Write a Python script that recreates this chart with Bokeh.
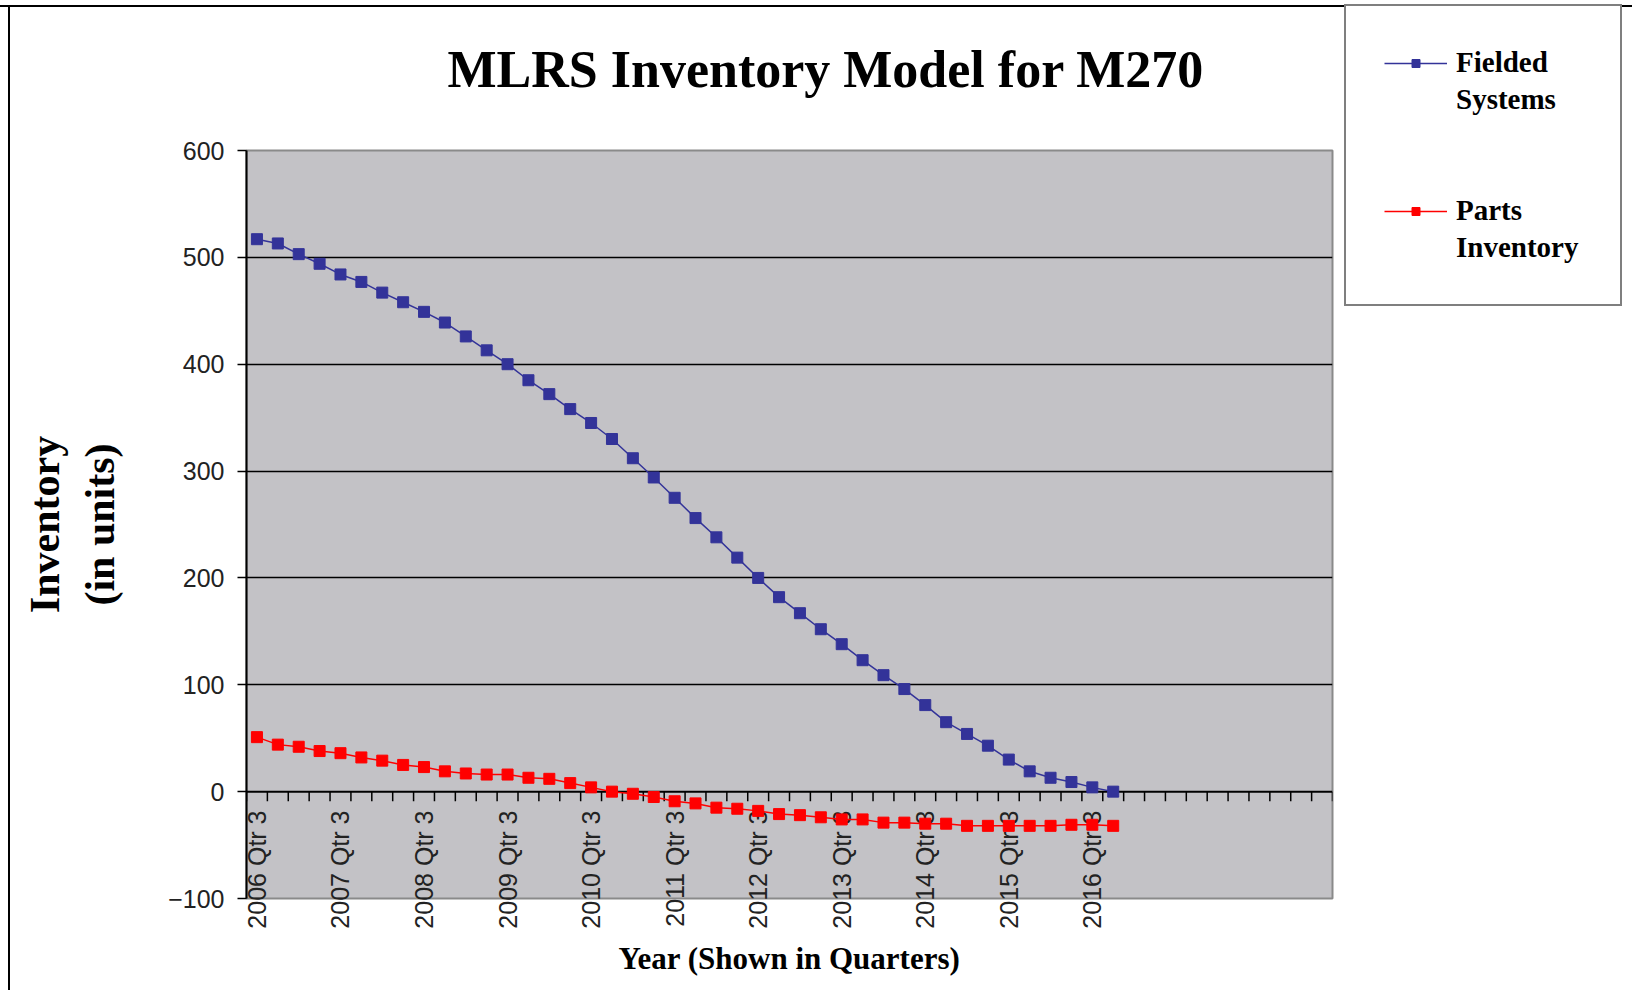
import math
from bokeh.plotting import figure
from bokeh.layouts import column, row
from bokeh.models import (Range1d, FixedTicker, Span, Legend, LegendItem, Title, Div)
from bokeh.embed import file_html
from bokeh.resources import INLINE

# ---------------- data ----------------
categories = [
    "2006 Qtr 3", "2006 Qtr 4",
    "2007 Qtr 1", "2007 Qtr 2", "2007 Qtr 3", "2007 Qtr 4",
    "2008 Qtr 1", "2008 Qtr 2", "2008 Qtr 3", "2008 Qtr 4",
    "2009 Qtr 1", "2009 Qtr 2", "2009 Qtr 3", "2009 Qtr 4",
    "2010 Qtr 1", "2010 Qtr 2", "2010 Qtr 3", "2010 Qtr 4",
    "2011 Qtr 1", "2011 Qtr 2", "2011 Qtr 3", "2011 Qtr 4",
    "2012 Qtr 1", "2012 Qtr 2", "2012 Qtr 3", "2012 Qtr 4",
    "2013 Qtr 1", "2013 Qtr 2", "2013 Qtr 3", "2013 Qtr 4",
    "2014 Qtr 1", "2014 Qtr 2", "2014 Qtr 3", "2014 Qtr 4",
    "2015 Qtr 1", "2015 Qtr 2", "2015 Qtr 3", "2015 Qtr 4",
    "2016 Qtr 1", "2016 Qtr 2", "2016 Qtr 3", "2016 Qtr 4",
]
fielded_systems = [517, 513, 503, 494, 484, 477, 467, 458, 449, 439,
                   426, 413, 400, 385, 372, 358, 345, 330, 312, 294,
                   275, 256, 238, 219, 200, 182, 167, 152, 138, 123,
                   109, 96, 81, 65, 54, 43, 30, 19, 13, 9, 4, 0]
parts_inventory = [51, 44, 42, 38, 36, 32, 29, 25, 23, 19,
                   17, 16, 16, 13, 12, 8, 4, 0, -2, -5,
                   -9, -11, -15, -16, -18, -21, -22, -24, -26, -26,
                   -29, -29, -30, -30, -32, -32, -32, -32, -32, -31, -31, -32]
y_ticks = [-100, 0, 100, 200, 300, 400, 500, 600]
grid_values = [100, 200, 300, 400, 500]
y_min, y_max = -100, 600
n_slots = 52          # category slots on the axis (last ones empty)
label_every = 4       # one label per year

xs = [i + 0.5 for i in range(len(categories))]
label_x = [xs[i] for i in range(0, len(categories), label_every)]
label_text = [categories[i] for i in range(0, len(categories), label_every)]
tick_edges = list(range(0, n_slots + 1))

SERIF = "Liberation Serif"
SANS = "Liberation Sans"

# page: 7px top strip (chart-area border), 10px left strip, then the figure
TOP_STRIP, LEFT_STRIP = 7, 10
W_LEFT, W_FRAME, W_RIGHT = 236, 1086, 300
H_TOP, H_FRAME, H_BOTTOM = 143, 748, 92
W_FIG = W_LEFT + W_FRAME + W_RIGHT
H_FIG = H_TOP + H_FRAME + H_BOTTOM

p = figure(frame_width=W_FRAME, frame_height=H_FRAME,
           min_border_left=W_LEFT, min_border_right=W_RIGHT,
           min_border_top=H_TOP, min_border_bottom=H_BOTTOM,
           x_range=Range1d(0, n_slots), y_range=Range1d(y_min, y_max),
           output_backend="svg", toolbar_location=None,
           background_fill_color="#C3C2C6", border_fill_color="white")

p.outline_line_color = "#8a8a8a"
p.outline_line_width = 2
p.xgrid.visible = False
p.ygrid.ticker = FixedTicker(ticks=grid_values)
p.ygrid.grid_line_color = "black"
p.ygrid.grid_line_width = 1.6

# y axis
p.yaxis.ticker = FixedTicker(ticks=y_ticks)
p.yaxis.axis_line_color = "black"
p.yaxis.axis_line_width = 2
p.yaxis.major_tick_line_color = "black"
p.yaxis.major_tick_line_width = 1.5
p.yaxis.major_tick_out = 9
p.yaxis.major_tick_in = 0
p.yaxis.minor_tick_line_color = None
p.yaxis.major_label_text_font = SANS
p.yaxis.major_label_text_font_size = "25px"
p.yaxis.major_label_text_color = "#222222"
p.yaxis.major_label_standoff = 13
p.yaxis.axis_label = "Inventory\n(in units)"
p.yaxis.axis_label_text_font = SERIF
p.yaxis.axis_label_text_font_style = "bold"
p.yaxis.axis_label_text_font_size = "42px"
p.yaxis.axis_label_text_color = "black"
p.yaxis.axis_label_standoff = 42

# x axis: category labels hang from the zero line (which lies 88px above the frame bottom)
p.xaxis.ticker = FixedTicker(ticks=label_x)
p.xaxis.major_label_overrides = {x: t for x, t in zip(label_x, label_text)}
p.xaxis.major_label_orientation = math.pi / 2
p.xaxis.major_label_standoff = -88
p.xaxis.major_label_text_font = SANS
p.xaxis.major_label_text_font_size = "25px"
p.xaxis.major_label_text_color = "#222222"
p.xaxis.axis_line_color = None
p.xaxis.major_tick_line_color = None
p.xaxis.minor_tick_line_color = None
p.xaxis.major_tick_out = 0
p.xaxis.major_tick_in = 0
p.xaxis.axis_label = "Year (Shown in Quarters)"
p.xaxis.axis_label_text_font = SERIF
p.xaxis.axis_label_text_font_style = "bold"
p.xaxis.axis_label_text_font_size = "31px"
p.xaxis.axis_label_text_color = "black"
p.xaxis.axis_label_standoff = 9

# zero axis line with category tick marks
p.add_layout(Span(location=0, dimension="width", line_color="black", line_width=2))
p.segment(x0=tick_edges, y0=[0] * len(tick_edges), x1=tick_edges, y1=[-9] * len(tick_edges),
          line_color="black", line_width=1.5)

# series
r1 = p.line(xs, fielded_systems, line_color="#333399", line_width=1.5)
s1 = p.scatter(xs, fielded_systems, marker="square", size=11,
               fill_color="#333399", line_color="#333399")
r2 = p.line(xs, parts_inventory, line_color="#FF0000", line_width=1.5)
s2 = p.scatter(xs, parts_inventory, marker="square", size=11,
               fill_color="#FF0000", line_color="#FF0000")
for r in (r1, s1, r2, s2):
    r.level = "overlay"
blank = p.line(x=[], y=[], line_alpha=0)   # label-only legend rows

# title (outermost), with a spacer panel between it and the frame
p.add_layout(Title(text=" ", text_font_size="2px", standoff=44), "above")
p.title.text = "MLRS Inventory Model for M270"
p.title.align = "left"
p.title.offset = 201
p.title.standoff = 10
p.title.text_font = SERIF
p.title.text_font_style = "bold"
p.title.text_font_size = "52px"
p.title.text_color = "black"

# legend (right-hand panel, boxed); glyph sits on the first line of each entry
legend = Legend(items=[LegendItem(label="Fielded", renderers=[r1, s1]),
                       LegendItem(label="Systems", renderers=[blank]),
                       LegendItem(label=" ", renderers=[blank]),
                       LegendItem(label="  ", renderers=[blank]),
                       LegendItem(label="Parts", renderers=[r2, s2]),
                       LegendItem(label="Inventory", renderers=[blank])],
                location=(12, 592), orientation="vertical",
                label_text_font=SERIF, label_text_font_style="bold",
                label_text_font_size="29px", label_text_color="black",
                glyph_width=63, glyph_height=20, label_standoff=9, label_width=126,
                label_height=37, padding=38, spacing=0, margin=0,
                border_line_color="black", border_line_width=2,
                background_fill_color="white", background_fill_alpha=1.0)
p.add_layout(legend, "right")

# chart-area border strips (top and left edges of the page)
top_strip = Div(text="", width=LEFT_STRIP + W_FIG, height=TOP_STRIP, margin=0,
                styles={"background": "linear-gradient(to bottom, #ffffff 0px, #ffffff 5px, #000000 5px, #000000 7px)"})
left_strip = Div(text="", width=LEFT_STRIP, height=H_FIG, margin=0,
                 styles={"background": "linear-gradient(to right, #ffffff 0px, #ffffff 8px, #000000 8px, #000000 10px)"})
page = column(top_strip, row(left_strip, p, spacing=0), spacing=0)

open("out.html", "w").write(file_html(page, INLINE))
